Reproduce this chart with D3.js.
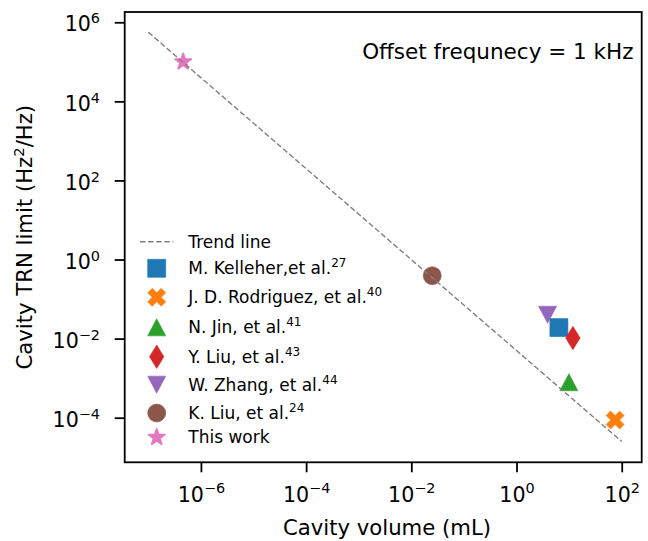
<!DOCTYPE html>
<html>
<head>
<meta charset="utf-8">
<script src="https://cdn.jsdelivr.net/npm/d3@7"></script>
<style>
  body { margin: 0; background: #fff; }
  svg text { font-family: "DejaVu Sans", sans-serif; fill: #000; }
</style>
</head>
<body>
<div id="chart"></div>
<script>
// data
const authors = ["M. Kelleher,et al.", "J. D. Rodriguez, et al.", "N. Jin, et al.", "Y. Liu, et al.",
                 "W. Zhang, et al.", "K. Liu, et al.", "This work"];
const refNums = ["27", "40", "41", "43", "44", "24", ""];
const volumes = [6.4, 75, 9.9, 11.8, 3.9, 0.025, 4.6e-7];       // mL
const trnLimits = [0.019, 8.7e-5, 7.9e-4, 0.0104, 0.040, 0.39, 1.0e5]; // Hz^2/Hz
const trendVolume = [1e-7, 1e2];
const trendTrn = [5.6e5, 2.5e-5];
const xTicks = [1e-6, 1e-4, 1e-2, 1, 1e2];
const yTicks = [1e-4, 1e-2, 1, 1e2, 1e4, 1e6];

const colors = ["#1f77b4", "#ff7f0e", "#2ca02c", "#d62728", "#9467bd", "#8c564b", "#e377c2"];
const shapes = ["square", "xfilled", "triUp", "thinDiamond", "triDown", "circle", "star"];
// Zhang's marker sits under Kelleher's square, which sits under Liu's diamond
const drawOrder = [4, 0, 3, 1, 2, 5, 6];

const width = 648, height = 541;
const margin = { left: 124.7, right: 6.3, top: 12, bottom: 78.7 };
const baseFont = 21.2;

const svg = d3.select("#chart").append("svg")
  .attr("width", width).attr("height", height);

const x = d3.scaleLog()
  .domain([Math.pow(10, -7.449), Math.pow(10, 2.38)])
  .range([margin.left, width - margin.right]);
const y = d3.scaleLog()
  .domain([Math.pow(10, -5.128), Math.pow(10, 6.26)])
  .range([height - margin.bottom, margin.top]);

// marker outlines, s = half size in px
function markerPath(shape, s) {
  const p = d3.path();
  if (shape === "square") {
    p.rect(-s, -s, 2 * s, 2 * s);
  } else if (shape === "circle") {
    p.arc(0, 0, s, 0, 2 * Math.PI);
  } else if (shape === "triUp") {
    p.moveTo(0, -s * 0.95); p.lineTo(s, s * 0.95); p.lineTo(-s, s * 0.95); p.closePath();
  } else if (shape === "triDown") {
    p.moveTo(0, s * 0.95); p.lineTo(s, -s * 0.95); p.lineTo(-s, -s * 0.95); p.closePath();
  } else if (shape === "thinDiamond") {
    p.moveTo(0, -s * 1.3); p.lineTo(s * 0.8, 0); p.lineTo(0, s * 1.3); p.lineTo(-s * 0.8, 0); p.closePath();
  } else if (shape === "xfilled") {
    const pts = [[0.25, 0], [0.5, 0.25], [0.25, 0.5], [0, 0.25], [-0.25, 0.5], [-0.5, 0.25],
                 [-0.25, 0], [-0.5, -0.25], [-0.25, -0.5], [0, -0.25], [0.25, -0.5], [0.5, -0.25]];
    pts.forEach((q, i) => i ? p.lineTo(q[0] * 2 * s, q[1] * 2 * s) : p.moveTo(q[0] * 2 * s, q[1] * 2 * s));
    p.closePath();
  } else if (shape === "star") {
    for (let i = 0; i < 10; i++) {
      const r = i % 2 ? s * 0.4 : s;
      const a = -Math.PI / 2 + i * Math.PI / 5;
      i ? p.lineTo(r * Math.cos(a), r * Math.sin(a)) : p.moveTo(r * Math.cos(a), r * Math.sin(a));
    }
    p.closePath();
  }
  return p.toString();
}

function markerStyle(sel, i) {
  const shape = shapes[i];
  const s = shape === "star" ? 8.6 : 9.0;
  sel.attr("d", markerPath(shape, s))
    .attr("fill", colors[i])
    .attr("stroke", colors[i])
    .attr("stroke-width", shape === "star" ? 1.6 : 0.6)
    .attr("stroke-linejoin", "round");
}

// data markers
const pts = svg.append("g");
drawOrder.forEach(i => {
  pts.append("path")
    .attr("transform", `translate(${x(volumes[i])},${y(trnLimits[i])})`)
    .call(markerStyle, i);
});

// trend line (drawn over the markers)
const trend = d3.zip(trendVolume, trendTrn);
svg.append("path")
  .datum(trend)
  .attr("d", d3.line().x(d => x(d[0])).y(d => y(d[1])))
  .attr("fill", "none")
  .attr("stroke", "#808080")
  .attr("stroke-width", 1.4)
  .attr("stroke-dasharray", "5.5,2.6");

// axes
function powerLabel(textSel, v, supDy) {
  const e = Math.round(Math.log10(v));
  textSel.text(null);
  textSel.append("tspan").text("10");
  textSel.append("tspan").attr("dy", -supDy).attr("font-size", 14.4)
    .text(e < 0 ? "\u2212" + (-e) : String(e));
}

const xAxis = svg.append("g")
  .attr("transform", `translate(0,${height - margin.bottom})`)
  .call(d3.axisBottom(x).tickValues(xTicks).tickSize(10).tickFormat(() => ""));
xAxis.select(".domain").remove();
xAxis.selectAll(".tick line").attr("stroke", "#000").attr("stroke-width", 1.8);
xAxis.selectAll(".tick text")
  .attr("y", 39.4).attr("dy", null)
  .attr("font-size", 20.6)
  .attr("text-anchor", "middle")
  .each(function (d) { powerLabel(d3.select(this), d, 8.5); });

const yAxis = svg.append("g")
  .attr("transform", `translate(${margin.left},0)`)
  .call(d3.axisLeft(y).tickValues(yTicks).tickSize(10).tickFormat(() => ""));
yAxis.select(".domain").remove();
yAxis.selectAll(".tick line").attr("stroke", "#000").attr("stroke-width", 1.8);
yAxis.selectAll(".tick text")
  .attr("x", -24.7).attr("dy", null).attr("y", 8.7)
  .attr("font-size", 20.6)
  .attr("text-anchor", "end")
  .each(function (d) { powerLabel(d3.select(this), d, 8); });

// frame
svg.append("rect")
  .attr("x", margin.left).attr("y", margin.top)
  .attr("width", width - margin.left - margin.right)
  .attr("height", height - margin.top - margin.bottom)
  .attr("fill", "none").attr("stroke", "#000").attr("stroke-width", 1.8);

// axis titles
svg.append("text")
  .attr("x", 387)
  .attr("y", 535)
  .attr("text-anchor", "middle")
  .attr("font-size", baseFont)
  .text("Cavity volume (mL)");

const yTitle = svg.append("text")
  .attr("transform", `translate(31.5,${(margin.top + height - margin.bottom) / 2}) rotate(-90)`)
  .attr("text-anchor", "middle")
  .attr("font-size", baseFont);
yTitle.append("tspan").text("Cavity TRN limit (Hz");
yTitle.append("tspan").attr("dy", -8).attr("font-size", 14.8).text("2");
yTitle.append("tspan").attr("dy", 8).text("/Hz)");

// annotation
svg.append("text")
  .attr("x", 633.5).attr("y", 59)
  .attr("text-anchor", "end")
  .attr("font-size", 21.5)
  .text("Offset frequnecy = 1 kHz");

// legend
const legendBaselines = [247.7, 274.3, 303.3, 333.3, 362.7, 390.7, 419, 443.3];
const legend = svg.append("g");
const legendFont = 17;

legend.append("line")
  .attr("x1", 140).attr("x2", 173.3)
  .attr("y1", legendBaselines[0] - 6).attr("y2", legendBaselines[0] - 6)
  .attr("stroke", "#808080").attr("stroke-width", 1.4)
  .attr("stroke-dasharray", "5.5,2.6");
legend.append("text")
  .attr("x", 188.3).attr("y", legendBaselines[0])
  .attr("font-size", legendFont)
  .text("Trend line");

authors.forEach((name, i) => {
  const by = legendBaselines[i + 1];
  legend.append("path")
    .attr("transform", `translate(156.7,${by - 6})`)
    .call(markerStyle, i);
  const t = legend.append("text")
    .attr("x", 188.3).attr("y", by)
    .attr("font-size", legendFont);
  t.append("tspan").text(name);
  if (refNums[i]) {
    t.append("tspan").attr("dy", -7).attr("font-size", 12).text(refNums[i]);
  }
});
</script>
</body>
</html>
